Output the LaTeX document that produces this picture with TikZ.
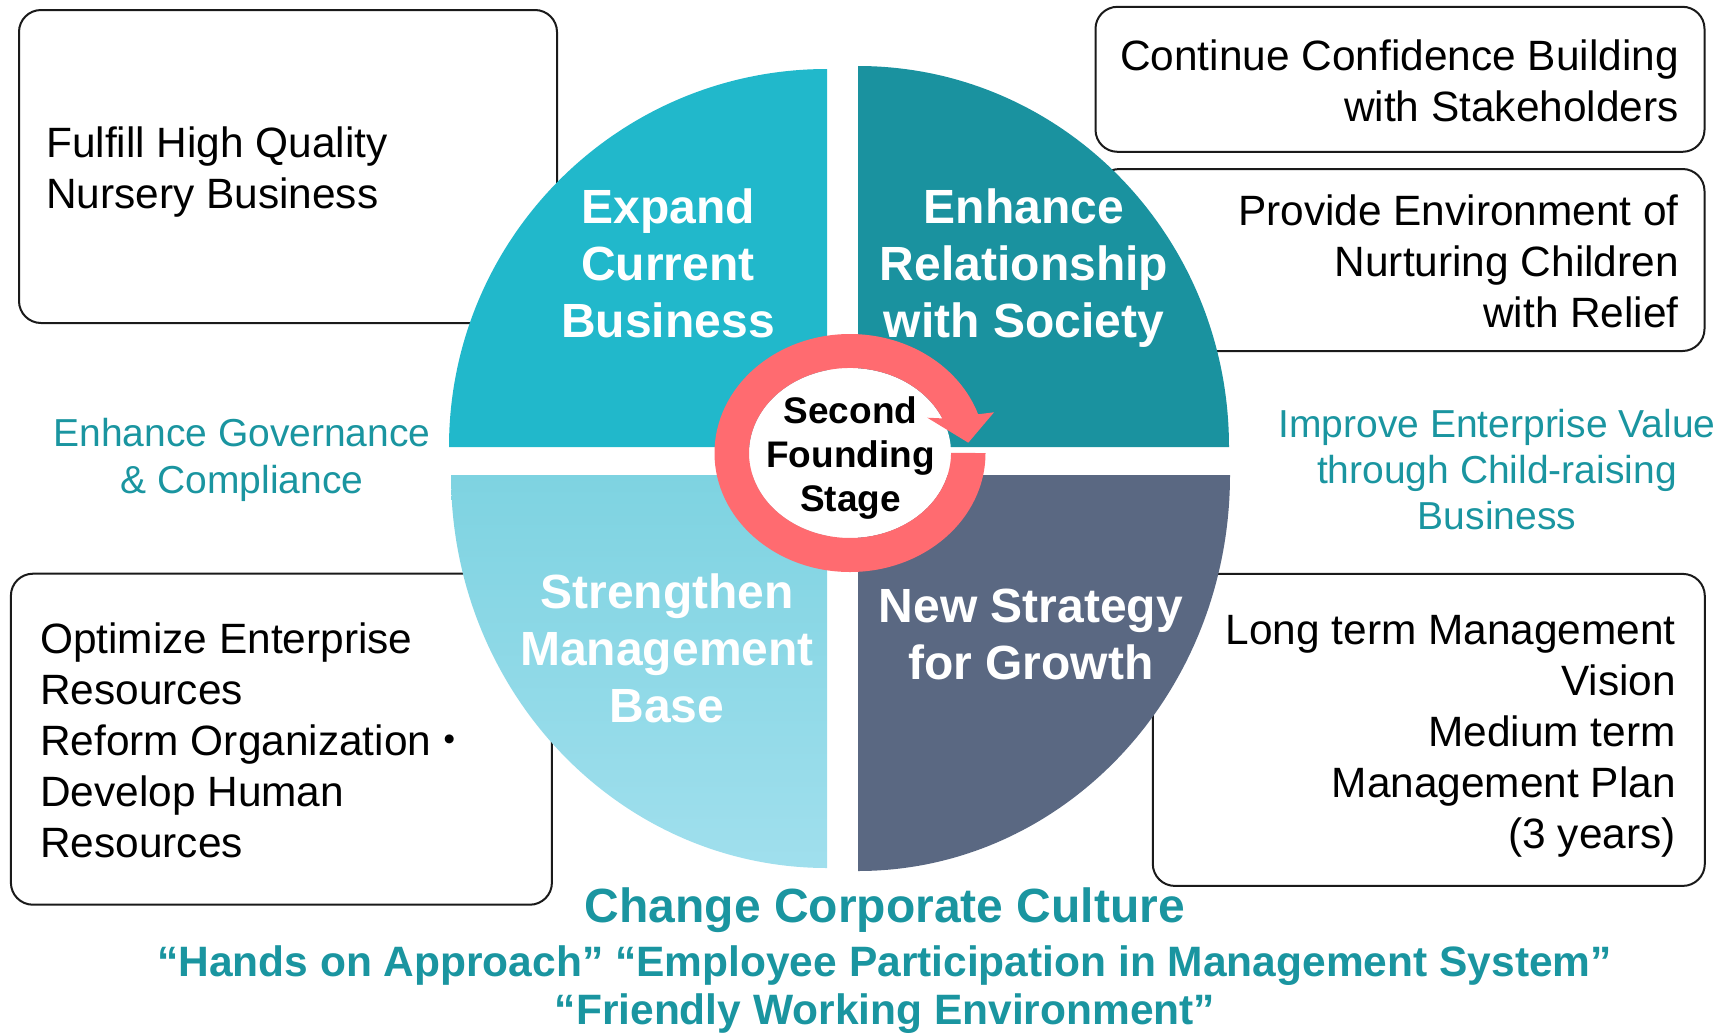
\documentclass[tikz,border=0pt]{standalone}
\usepackage{fontspec}
\setmainfont{Liberation Sans}
\newfontfamily\cjkfont{Noto Sans CJK JP}
\definecolor{qTL}{HTML}{21B8CB}
\definecolor{qTR}{HTML}{1A929F}
\definecolor{qBLt}{HTML}{7ED3E1}
\definecolor{qBLb}{HTML}{A0DFED}
\definecolor{qBR}{HTML}{5A6882}
\definecolor{ringc}{HTML}{FF6B70}
\definecolor{tealtext}{HTML}{1A95A0}
\definecolor{boxline}{HTML}{1A1A1A}
\begin{document}
\begin{tikzpicture}[x=1pt,y=-1pt,
  box/.style={draw=boxline, line width=2pt, rounded corners=22pt, fill=white, inner sep=0pt},
  boxtext/.style={font=\fontsize{42.4}{51}\selectfont, text=black, inner sep=0pt},
  quadtext/.style={font=\bfseries\fontsize{48}{57}\selectfont, text=white, align=center, inner sep=0pt, anchor=base},
  sidetext/.style={font=\fontsize{39}{47}\selectfont, text=tealtext, align=center, inner sep=0pt, anchor=base},
  bottomtext/.style={font=\bfseries\fontsize{42.5}{47}\selectfont, text=tealtext, inner sep=0pt, anchor=base}]
\useasboundingbox (0,0) rectangle (1730,1034);

% boxes
\node[box, minimum width=538pt, minimum height=313pt] (boxA) at (288,166.5) {};
\node[box, minimum width=609pt, minimum height=145pt] (boxB) at (1400,79.3) {};
\node[box, minimum width=607pt, minimum height=182pt] (boxC) at (1401,260) {};
\node[box, minimum width=541pt, minimum height=331pt] (boxD) at (281.4,739.2) {};
\node[box, minimum width=552pt, minimum height=312pt] (boxE) at (1428.8,729.9) {};

% quadrants
\fill[qTL] (827,447) -- (449,447) arc[start angle=180, end angle=270, x radius=378, y radius=378] -- cycle;
\fill[qTR] (858,447) -- (858,66) arc[start angle=270, end angle=360, x radius=371, y radius=381] -- cycle;
\shade[top color=qBLt, bottom color=qBLb] (827,475) -- (827,868) arc[start angle=90, end angle=180, x radius=376, y radius=393] -- cycle;
\fill[qBR] (858,475) -- (1230,475) arc[start angle=0, end angle=90, x radius=372, y radius=396] -- cycle;

% center ring
\fill[white] (850,453) ellipse[x radius=101, y radius=85];
\fill[ringc] (985.5,453) arc[start angle=0, end angle=341, x radius=135.5, y radius=119]
  -- (994,412.3) -- (968.3,442.7) -- (927.3,417.7) -- (942.3,418.4)
  arc[start angle=336, end angle=0, x radius=101, y radius=85] -- cycle;

% quadrant texts (anchor = baseline of last line)
\node[quadtext] (tTL) at (668,337) {Expand\\Current\\Business};
\node[quadtext] (tTR) at (1024,337) {Enhance\\Relationship\\with Society};
\node[quadtext] (tBL) at (667,722) {Strengthen\\Management\\Base};
\node[quadtext] (tBR) at (1031,679) {New Strategy\\for Growth};
\node[font=\bfseries\fontsize{37}{44}\selectfont, align=center, inner sep=0pt, anchor=base] (tC) at (850.5,511) {Second\\Founding\\Stage};

% box texts
\node[boxtext, align=left, anchor=base west] (tA) at (46,208.5) {Fulfill High Quality\\Nursery Business};
\node[boxtext, align=right, anchor=base east] (tB) at (1679,121.5) {Continue Confidence Building\\with Stakeholders};
\node[boxtext, align=right, anchor=base east] (tCx) at (1679,327.7) {Provide Environment of\\Nurturing Children\\with Relief};
\node[boxtext, align=left, anchor=base west] (tD) at (40,857.3) {Optimize Enterprise\\Resources\\Reform Organization\kern-3pt{\cjkfont ・}\\Develop Human\\Resources};
\node[boxtext, align=right, anchor=base east] (tE) at (1676,848.5) {Long term Management\\Vision\\Medium term\\Management Plan\\(3 years)};

% side texts
\node[sidetext] (sL) at (242,493) {Enhance Governance\\\& Compliance};
\node[sidetext, font=\fontsize{39}{46.3}\selectfont] (sR) at (1497,529.6) {Improve Enterprise Value\\through Child-raising\\Business};

% bottom texts
\node[bottomtext, font=\bfseries\fontsize{48}{57}\selectfont] (b1) at (885,922) {Change Corporate Culture};
\node[bottomtext] (b2) at (884.5,976.5) {“Hands on Approach” “Employee Participation in Management System”};
\node[bottomtext] (b3) at (885,1024) {“Friendly Working Environment”};
\end{tikzpicture}
\end{document}
